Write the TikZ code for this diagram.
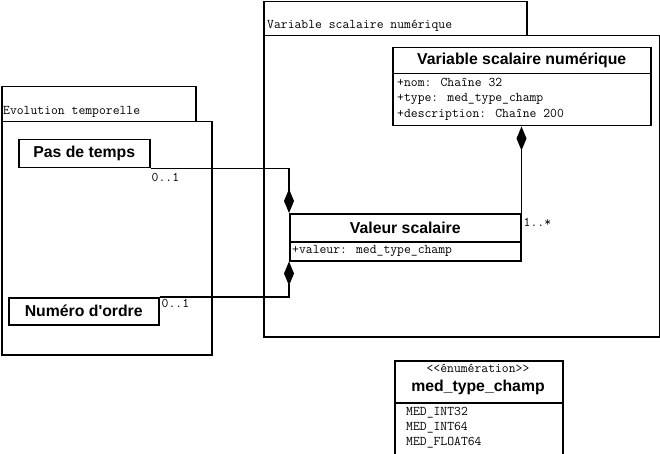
\documentclass[tikz,border=0pt]{standalone}
\usepackage{fontspec}
\newfontfamily\classfont{Liberation Sans}
\usetikzlibrary{arrows.meta}
\tikzset{
  pkg/.style={draw, line width=1.5pt, fill=white, anchor=north west, inner sep=0pt},
  clsbox/.style={draw, line width=1.5pt, fill=white, anchor=north west, inner sep=0pt,
    font=\classfont\bfseries\fontsize{15.8}{18}\selectfont},
  attr/.style={anchor=west, inner sep=0pt, font=\ttfamily\fontsize{13.3}{15}\selectfont},
  conn/.style={line width=1.3pt},
  comp/.style={-{Diamond[length=24pt,width=10pt]}}
}
\begin{document}
\begin{tikzpicture}[x=1pt,y=-1pt]
\useasboundingbox (0,0) rectangle (660,454);
% packages
\node[pkg, minimum width=263, minimum height=34] (righttab) at (263,1) {};
\node[pkg, minimum width=396, minimum height=301] (rightpkg) at (263,35) {};
\node[attr] (righttablbl) at (267,26) {Variable scalaire numérique};
\node[pkg, minimum width=194, minimum height=35] (lefttab) at (1,86) {};
\node[pkg, minimum width=210, minimum height=233] (leftpkg) at (1,121) {};
\node[attr] (lefttablbl) at (3,112) {Evolution temporelle};
% class Variable scalaire numerique
\node[clsbox, minimum width=258, minimum height=26] (varhead) at (392,47) {Variable scalaire numérique};
\node[clsbox, minimum width=258, minimum height=52] (varbody) at (392,73) {};
\node[attr] (va1) at (397,82) {+nom: Chaîne 32};
\node[attr] (va2) at (397,99) {+type: med\_type\_champ};
\node[attr] (va3) at (397,115) {+description: Chaîne 200};
% class Valeur scalaire
\node[clsbox, minimum width=231, minimum height=28] (valhead) at (289,213) {Valeur scalaire};
\node[clsbox, minimum width=231, minimum height=19] (valbody) at (289,241) {};
\node[attr] (vla1) at (292,251) {+valeur: med\_type\_champ};
% Pas de temps / Numero d'ordre
\node[clsbox, minimum width=131, minimum height=28] (pas) at (18,139) {Pas de temps};
\node[clsbox, minimum width=150, minimum height=27] (num) at (8,297) {Numéro d'ordre};
% enumeration
\node[clsbox, minimum width=168, minimum height=42] (enumhead) at (394,360) {};
\node[clsbox, minimum width=168, minimum height=54] (enumbody) at (394,402) {};
\node[attr, anchor=center] (enumst) at (478,368) {{<}{<}énumération{>}{>}};
\node[inner sep=0pt, font=\classfont\bfseries\fontsize{15.8}{18}\selectfont] (enumname) at (478,387) {med\_type\_champ};
\node[attr] (e1) at (406,413) {MED\_INT32};
\node[attr] (e2) at (406,428) {MED\_INT64};
\node[attr] (e3) at (406,443) {MED\_FLOAT64};
% connectors
\draw[conn,comp] (pas.south east) -| (valhead.north west);
\draw[conn,comp] (num.north east) -| (valbody.south west);
\draw[conn,comp] (valhead.north east) -- (valhead.north east |- varbody.south);
% multiplicities
\node[attr] (m1) at ([shift={(1,9)}]pas.south east) {0..1};
\node[attr] (m2) at ([shift={(2,6)}]num.north east) {0..1};
\node[attr] (m3) at ([shift={(2,9)}]valhead.north east) {1..*};
\end{tikzpicture}
\end{document}
